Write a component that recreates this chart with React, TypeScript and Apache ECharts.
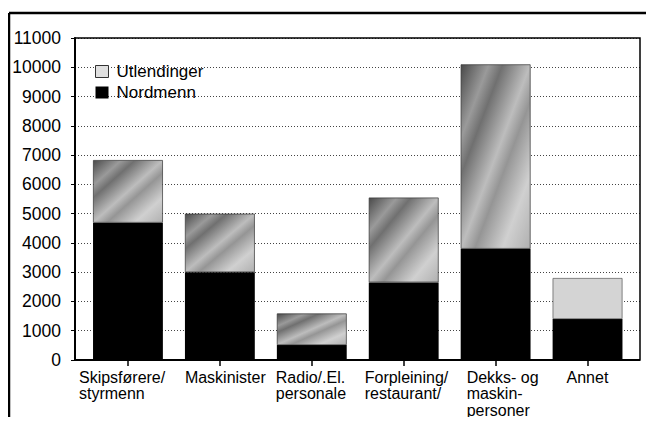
import React, { useEffect, useRef } from "react";
import * as echarts from "echarts";

const categories = [
  "Skipsførere/\nstyrmenn",
  "Maskinister",
  "Radio/.El.\npersonale",
  "Forpleining/\nrestaurant/",
  "Dekks- og\nmaskin-\npersoner",
  "Annet",
];
const nordmenn = [4690, 3000, 510, 2650, 3800, 1400];
const utlendinger = [2140, 2000, 1080, 2900, 6300, 1400];
const yTicks = [0, 1000, 2000, 3000, 4000, 5000, 6000, 7000, 8000, 9000, 10000, 11000];
// label left offsets (styling only)
const labelShift = [-49, -35, -36, -39, -29, -21];

const FONT = "Liberation Sans, Arial, Helvetica, sans-serif";

export default function App() {
  const ref = useRef<HTMLDivElement>(null);
  useEffect(() => {
    if (!ref.current) return;
    const chart = echarts.init(ref.current, undefined, { renderer: "svg" });
    const grad = new echarts.graphic.LinearGradient(0, 0, 1, 1, [
      { offset: 0, color: "#4a4a4a" },
      { offset: 0.2, color: "#9a9a9a" },
      { offset: 0.3, color: "#707070" },
      { offset: 0.5, color: "#bdbdbd" },
      { offset: 0.6, color: "#959595" },
      { offset: 0.8, color: "#d0d0d0" },
      { offset: 1, color: "#b0b0b0" },
    ]);
    chart.setOption({
      animation: false,
      backgroundColor: "#fff",
      graphic: [
        {
          type: "line",
          shape: { x1: 9, y1: 13, x2: 660, y2: 13 },
          style: { stroke: "#000", lineWidth: 2.5 },
        },
        {
          type: "line",
          shape: { x1: 9, y1: 13, x2: 9, y2: 430 },
          style: { stroke: "#000", lineWidth: 2.5 },
        },
        {
          type: "rect",
          shape: { x: 75, y: 38, width: 565, height: 322 },
          style: { fill: "none", stroke: "#000", lineWidth: 1.5 },
          z: 10,
        },
        {
          type: "line",
          shape: { x1: 75, y1: 360, x2: 640, y2: 360 },
          style: { stroke: "#000", lineWidth: 2 },
          z: 10,
        },
      ],
      legend: {
        orient: "vertical",
        left: 90,
        top: 58,
        itemWidth: 13,
        itemHeight: 12,
        itemGap: 4,
        textStyle: { fontFamily: FONT, fontSize: 17, color: "#000", padding: [0, 0, 0, 3] },
        data: [
          {
            name: "Utlendinger",
            icon: "rect",
            itemStyle: { color: "#e0e0e0", borderColor: "#333", borderWidth: 1 },
          },
          { name: "Nordmenn", icon: "rect", itemStyle: { color: "#000" } },
        ],
      },
      grid: [
        { left: 75, right: 14, top: 38, bottom: 65 },
        { left: 82, right: 20.5, top: 38, bottom: 65 },
      ],
      xAxis: [
        { type: "value", gridIndex: 0, show: false, min: 0, max: 1 },
        {
          type: "category",
          gridIndex: 1,
          data: categories.map((c, i) => ({
            value: c,
            textStyle: { align: "left", padding: [0, 0, 0, labelShift[i]] },
          })),
          axisLine: { show: false },
          axisTick: { show: true, alignWithLabel: true, length: 6, lineStyle: { color: "#000", width: 1.5 } },
          axisLabel: {
            fontFamily: FONT,
            fontSize: 16,
            color: "#000",
            lineHeight: 16.5,
            margin: 9,
            interval: 0,
            align: "left",
          },
        },
      ],
      yAxis: [
        {
          type: "value",
          gridIndex: 0,
          min: 0,
          max: 11000,
          interval: 1000,
          axisLine: { show: true, lineStyle: { color: "#000", width: 2 } },
          axisTick: { show: true, length: 4, lineStyle: { color: "#000" } },
          axisLabel: {
            fontFamily: FONT,
            fontSize: 17.5,
            color: "#000",
            margin: 14,
            formatter: (v: number) => (yTicks.includes(v) ? String(v) : ""),
          },
          splitLine: { lineStyle: { color: "#444", type: [1, 2], width: 1 } },
        },
        { type: "value", gridIndex: 1, show: false, min: 0, max: 11000, splitLine: { show: false } },
      ],
      series: [
        {
          name: "Nordmenn",
          type: "bar",
          xAxisIndex: 1,
          yAxisIndex: 1,
          stack: "t",
          barCategoryGap: "24%",
          data: nordmenn,
          itemStyle: { color: "#000" },
        },
        {
          name: "Utlendinger",
          type: "bar",
          xAxisIndex: 1,
          yAxisIndex: 1,
          stack: "t",
          data: utlendinger.map((v, i) =>
            i === 5
              ? { value: v, itemStyle: { color: "#d4d4d4", borderColor: "#555", borderWidth: 0.7 } }
              : v
          ),
          itemStyle: { color: grad, borderColor: "#333", borderWidth: 0.7 },
        },
      ],
    });
    return () => chart.dispose();
  }, []);
  return <div ref={ref} style={{ width: 654, height: 425, margin: -8 }} />;
}
